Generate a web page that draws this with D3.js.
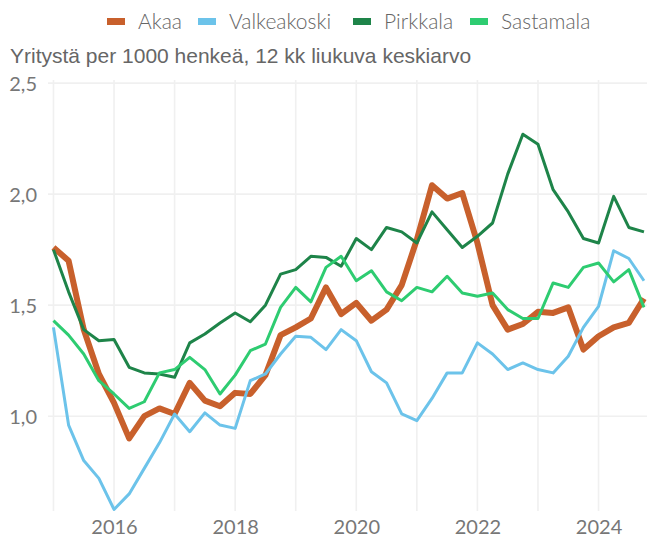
<!DOCTYPE html>
<html>
<head>
<meta charset="utf-8">
<script src="https://cdn.jsdelivr.net/npm/d3@7"></script>
<style>
  body { margin: 0; background: #fff; }
  svg { display: block; }
</style>
</head>
<body>
<script>
// quarters 2015Q1 .. 2024Q4
var quarters = [];
for (var yr = 2015; yr <= 2024; yr++) {
  for (var q = 1; q <= 4; q++) quarters.push(yr + "Q" + q);
}

var akaa = [1.76, 1.70, 1.39, 1.19, 1.06, 0.90, 1.00, 1.035, 1.01, 1.15,
            1.07, 1.045, 1.105, 1.10, 1.185, 1.365, 1.40, 1.44, 1.58, 1.46,
            1.51, 1.43, 1.48, 1.59, 1.795, 2.04, 1.98, 2.005, 1.78, 1.50,
            1.39, 1.415, 1.47, 1.465, 1.49, 1.30, 1.36, 1.40, 1.42, 1.53];
var valkeakoski = [1.40, 0.96, 0.80, 0.72, 0.58, 0.65, 0.765, 0.88, 1.01, 0.93,
            1.015, 0.96, 0.945, 1.16, 1.19, 1.28, 1.36, 1.355, 1.30, 1.39,
            1.34, 1.20, 1.15, 1.01, 0.98, 1.08, 1.195, 1.195, 1.33, 1.28,
            1.21, 1.24, 1.21, 1.195, 1.27, 1.40, 1.495, 1.745, 1.71, 1.61];
var pirkkala = [1.75, 1.56, 1.39, 1.34, 1.345, 1.22, 1.195, 1.19, 1.175, 1.33,
            1.37, 1.42, 1.465, 1.425, 1.50, 1.64, 1.66, 1.72, 1.715, 1.675,
            1.80, 1.75, 1.85, 1.83, 1.78, 1.92, 1.84, 1.76, 1.81, 1.87,
            2.09, 2.27, 2.225, 2.02, 1.92, 1.80, 1.78, 1.99, 1.85, 1.83];
var sastamala = [1.43, 1.365, 1.28, 1.16, 1.10, 1.035, 1.065, 1.195, 1.21, 1.265,
            1.21, 1.10, 1.185, 1.295, 1.325, 1.49, 1.58, 1.515, 1.67, 1.72,
            1.61, 1.655, 1.56, 1.52, 1.58, 1.56, 1.63, 1.555, 1.54, 1.555,
            1.48, 1.44, 1.44, 1.60, 1.58, 1.67, 1.69, 1.605, 1.66, 1.49];

var seriesNames = ["Akaa", "Valkeakoski", "Pirkkala", "Sastamala"];
var seriesValues = [akaa, valkeakoski, pirkkala, sastamala];
var colors = ["#c8602c", "#6cc3ea", "#1e8449", "#2ecc71"];
var widths = [6, 3, 3, 3];

var yTicks = [1.0, 1.5, 2.0, 2.5];
var xTicks = [2015, 2016, 2017, 2018, 2019, 2020, 2021, 2022, 2023, 2024];
var subtitle = "Yritystä per 1000 henkeä, 12 kk liukuva keskiarvo";

var w = 647, h = 538;
var margin = { top: 80, right: 0, bottom: 27, left: 48 };

function qToYear(s) {
  return +s.slice(0, 4) + (+s.slice(5) - 1) / 4;
}

var xScale = d3.scaleLinear()
  .domain([2014.91, 2024.8])
  .range([margin.left, w - margin.right]);
var yScale = d3.scaleLinear()
  .domain([0.573, 2.514])
  .range([h - margin.bottom, margin.top]);

var svg = d3.select("body").append("svg")
  .attr("width", w)
  .attr("height", h);

// grid
svg.append("g")
  .selectAll("line")
  .data(xTicks)
  .enter().append("line")
  .attr("x1", function(d) { return xScale(d); })
  .attr("x2", function(d) { return xScale(d); })
  .attr("y1", margin.top)
  .attr("y2", h - margin.bottom)
  .attr("stroke", "#f0f0f0")
  .attr("stroke-width", 1.6);

svg.append("g")
  .selectAll("line")
  .data(yTicks)
  .enter().append("line")
  .attr("x1", margin.left)
  .attr("x2", w - margin.right)
  .attr("y1", function(d) { return yScale(d); })
  .attr("y2", function(d) { return yScale(d); })
  .attr("stroke", "#f0f0f0")
  .attr("stroke-width", 1.6);

// axes (labels only)
var yAxis = svg.append("g")
  .attr("transform", "translate(" + (margin.left - 11) + ",0)")
  .call(d3.axisLeft(yScale)
    .tickValues(yTicks)
    .tickSize(0)
    .tickFormat(function(d) { return d3.format(".1f")(d).replace(".", ","); }));
yAxis.select(".domain").remove();
yAxis.selectAll("text")
  .attr("x", 0)
  .attr("dy", "0.36em")
  .style("font-family", "Lato, sans-serif")
  .style("font-size", "20px")
  .style("fill", "#777");

var xAxis = svg.append("g")
  .attr("transform", "translate(0," + (h - margin.bottom) + ")")
  .call(d3.axisBottom(xScale)
    .tickValues(xTicks.filter(function(d) { return d % 2 === 0; }))
    .tickSize(0)
    .tickFormat(d3.format("d")));
xAxis.select(".domain").remove();
xAxis.selectAll("text")
  .attr("y", 23)
  .attr("dy", 0)
  .style("font-family", "Lato, sans-serif")
  .style("font-size", "20px")
  .style("fill", "#777");

// lines
var line = d3.line()
  .x(function(d) { return xScale(qToYear(d[0])); })
  .y(function(d) { return yScale(d[1]); });

seriesValues.forEach(function(vals, i) {
  svg.append("path")
    .datum(d3.zip(quarters, vals))
    .attr("fill", "none")
    .attr("stroke", colors[i])
    .attr("stroke-width", widths[i])
    .attr("stroke-linejoin", "round")
    .attr("d", line);
});

// subtitle
svg.append("text")
  .attr("x", 10)
  .attr("y", 63)
  .style("font-family", "'Liberation Sans', Arial, sans-serif")
  .style("font-size", "21px")
  .style("fill", "#666")
  .text(subtitle);

// legend
var legendX = [107, 198, 353, 470];
var legend = svg.append("g");
seriesNames.forEach(function(name, i) {
  legend.append("rect")
    .attr("x", legendX[i])
    .attr("y", 18)
    .attr("width", 18)
    .attr("height", 7)
    .attr("fill", colors[i]);
  legend.append("text")
    .attr("x", legendX[i] + 31)
    .attr("y", 29)
    .style("font-family", "Lato, sans-serif")
    .style("font-size", "21px")
    .style("font-weight", 300)
    .style("fill", "#666")
    .text(name);
});
</script>
</body>
</html>
